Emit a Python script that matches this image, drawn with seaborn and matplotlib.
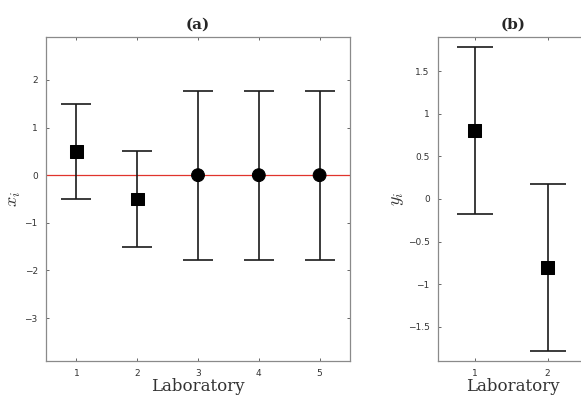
import numpy as np
import pandas as pd
import matplotlib
matplotlib.use("Agg")
import matplotlib.pyplot as plt
import seaborn as sns

# panel (a) values
labs_a = [1, 2, 3, 4, 5]
x_vals = [0.5, -0.5, 0.0, 0.0, 0.0]
x_err = [1.0, 1.0, 1.77, 1.77, 1.77]
x_shape = ["sq", "sq", "ci", "ci", "ci"]

# panel (b) values
labs_b = [1, 2]
y_vals = [0.8, -0.8]
y_err = [0.98, 0.98]

sns.set_style("ticks")
plt.rcParams["font.family"] = ["DejaVu Sans"]
plt.rcParams["mathtext.fontset"] = "cm"

fig = plt.figure(figsize=(5.81, 4.0), dpi=100)
ax_a = fig.add_axes([46 / 581, 1 - 361 / 400, 304 / 581, 324 / 400])
ax_b = fig.add_axes([438 / 581, 1 - 361 / 400, 150 / 581, 324 / 400])

df_a = pd.DataFrame({"lab": labs_a, "x": x_vals, "err": x_err, "shape": x_shape})
df_b = pd.DataFrame({"lab": labs_b, "y": y_vals, "err": y_err, "shape": ["sq", "sq"]})

ax_a.axhline(0, color="#e0342c", lw=0.9, zorder=1)
ax_a.errorbar(df_a["lab"], df_a["x"], yerr=df_a["err"], fmt="none",
              ecolor="#1a1a1a", elinewidth=1.2, capsize=11, capthick=1.2, zorder=2)
sns.scatterplot(data=df_a, x="lab", y="x", style="shape",
                markers={"sq": "s", "ci": "o"}, color="black", s=85,
                edgecolor="black", legend=False, ax=ax_a, zorder=3)

ax_b.errorbar(df_b["lab"], df_b["y"], yerr=df_b["err"], fmt="none",
              ecolor="#1a1a1a", elinewidth=1.2, capsize=13, capthick=1.2, zorder=2)
sns.scatterplot(data=df_b, x="lab", y="y", style="shape",
                markers={"sq": "s"}, color="black", s=85,
                edgecolor="black", legend=False, ax=ax_b, zorder=3)

ax_a.set_xlim(0.5, 5.5)
ax_a.set_ylim(-3.9, 2.9)
ax_a.set_xticks(labs_a)
ax_a.set_yticks([-3, -2, -1, 0, 1, 2])
ax_a.set_yticklabels(["\u22123", "\u22122", "\u22121", "0", "1", "2"])

ax_b.set_xlim(0.5, 2.5 + 4 / 73)
ax_b.set_ylim(-1.9, 1.9)
ax_b.set_xticks(labs_b)
ax_b.set_yticks([-1.5, -1, -0.5, 0, 0.5, 1, 1.5])
ax_b.set_yticklabels(["\u22121.5", "\u22121", "\u22120.5", "0", "0.5", "1", "1.5"])

for ax, title, ylab in [(ax_a, "(a)", "$x_i$"), (ax_b, "(b)", "$y_i$")]:
    for s in ax.spines.values():
        s.set_visible(True)
        s.set_color("#8a8a8a")
        s.set_linewidth(0.9)
    ax.tick_params(direction="in", length=2.5, width=0.7, color="#666666",
                   top=True, right=True, labelsize=6.5, labelcolor="#333333", pad=6)
    ax.set_title(title, fontsize=11, fontweight="bold", family="DejaVu Serif", pad=6)
    ax.set_xlabel("Laboratory", fontsize=12, family="DejaVu Serif", color="#333333", labelpad=0)
    ax.set_ylabel(ylab, fontsize=13, color="#333333", labelpad=1)

# panel (b) runs off the right edge in the reference
ax_b.spines["right"].set_visible(False)
ax_b.tick_params(right=False)

fig.savefig("out.png", dpi=100)
